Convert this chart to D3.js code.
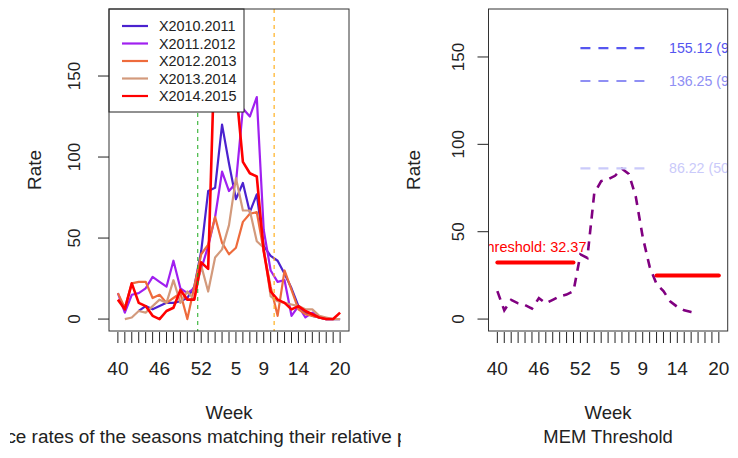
<!DOCTYPE html>
<html><head><meta charset="utf-8">
<script src="https://cdn.jsdelivr.net/npm/d3@7"></script>
<style>
body{margin:0;background:#fff}
svg{display:block}
text{font-family:"Liberation Sans",Arial,sans-serif;fill:#222}
</style>
</head><body>
<svg id="c" width="738" height="458"></svg>
<script>
// ---------- data ----------
const weeks = [40,41,42,43,44,45,46,47,48,49,50,51,52,1,2,3,4,5,6,7,8,9,10,11,12,13,14,15,16,17,18,19,20];
const xLabelsShown = ["40","46","52","5","9","14","20"];
const yTicks = [0,50,100,150];
const seriesNames = ["X2010.2011","X2011.2012","X2012.2013","X2013.2014","X2014.2015"];
const s2010 = [null,null,null,5,8,6,8,10,10,11,13,20,42,79,81,120,96,74,84,66,77,45,39,36,28,19,8,4,2,1,0,0,0];
const s2011 = [16,4,15,16,19,26,23,20,36,19,16,19,31,45,63,91,79,84,130,125,137,55,30,23,24,2,8,1,4,1,0,0,null];
const s2012 = [16,7,22,23,23,13,15,10,13,16,0,20,40,46,63,47,40,44,60,65,66,42,20,2,30,18,6,3,2,1,0,0,null];
const s2013 = [null,0,1,5,4,8,12,10,24,10,17,12,33,17,38,43,58,87,67,67,48,44,14,11,10,9,8,6,6,2,1,0,0];
const s2014 = [12,6,22,10,8,2,0,5,7,18,12,12,35,31,175,184,165,143,97,90,88,42,17,12,10,6,8,5,3,1,0,0,4];
const epidemicStartPos = 12.5, epidemicEndPos = 23.5;

const typicalCurve = [16,5,11,9,8,6,12,9,11,13,14,16,37,35,72,79,80,82,86,83,70,47,30,20,16,10,7,5,4,3];
const preThreshold = 32.37, postThreshold = 25;
const preRange = [1,12], postRange = [24,33], intensityRange = [13,23];
const intensityValues = [86.22, 136.25, 155.12];
const intensityLabels = ["86.22 (50%)","136.25 (90%)","155.12 (97.5%)"];
const thresholdLabel = "Threshold: 32.37";

// ---------- styles ----------
const seriesColors = ["#4B22CF","#A020F0","#EE6B3C","#D39A7C","#FF0000"];
const intensityColors = ["#CACAFA","#8F8FF4","#5555F0"];

const svg = d3.select("#c");
const allSeries = [s2010,s2011,s2012,s2013,s2014];
const n = weeks.length;
const idx = d3.range(1, n+1);
const pad = 0.04*(n-1);

function drawXAxis(g, x, bottom){
  idx.forEach((i,k)=>{
    g.append("line").attr("x1",x(i)).attr("x2",x(i)).attr("y1",bottom+1).attr("y2",bottom+12)
      .attr("stroke","#222").attr("stroke-width",1);
    const lab = String(weeks[k]);
    if (xLabelsShown.includes(lab)) {
      g.append("text").attr("x",x(i)).attr("y",375).attr("text-anchor","middle")
        .style("font-size","19px").text(lab);
    }
  });
}
function drawYAxis(g, y, left, labelX){
  yTicks.forEach(t=>{
    g.append("line").attr("x1",left-11).attr("x2",left).attr("y1",y(t)).attr("y2",y(t))
      .attr("stroke","#222");
    g.append("text").attr("transform",`translate(${labelX},${y(t)}) rotate(-90)`)
      .attr("text-anchor","middle").attr("dy","0.35em").style("font-size","17px").text(t);
  });
}
function rotLabel(g, txt, cx, cy){
  g.append("text").attr("transform",`translate(${cx},${cy}) rotate(-90)`)
    .attr("text-anchor","middle").attr("dy","0.35em").style("font-size","19px").text(txt);
}

// ---------- left panel ----------
(function(){
  const L=109,R=349,T=9,B=331;
  const x = d3.scaleLinear().domain([1-pad, n+pad]).range([L,R]);
  const yMax = d3.max(allSeries.flat());
  const y = d3.scaleLinear().domain([-0.04*yMax, 1.04*yMax]).range([B,T]);
  const g = svg.append("g");
  g.append("clipPath").attr("id","clipL").append("rect").attr("x",L).attr("y",T).attr("width",R-L).attr("height",B-T);
  const pg = g.append("g").attr("clip-path","url(#clipL)");
  const line = d3.line().defined(d=>d!=null).x((d,i)=>x(i+1)).y(d=>y(d));
  allSeries.forEach((s,k)=>{
    pg.append("path").attr("d",line(s)).attr("fill","none").attr("stroke",seriesColors[k])
      .attr("stroke-width",k===4?2.6:2.2).attr("stroke-linejoin","round");
  });
  pg.append("line").attr("x1",x(epidemicStartPos)).attr("x2",x(epidemicStartPos)).attr("y1",T).attr("y2",B)
    .attr("stroke","#1DAA1D").attr("stroke-width",1).attr("stroke-dasharray","4,4");
  pg.append("line").attr("x1",x(epidemicEndPos)).attr("x2",x(epidemicEndPos)).attr("y1",T).attr("y2",B)
    .attr("stroke","#FFB020").attr("stroke-width",1.2).attr("stroke-dasharray","4,4");
  // legend
  const lg = g.append("g");
  lg.append("rect").attr("x",L).attr("y",T).attr("width",135).attr("height",103)
    .attr("fill","#fff").attr("stroke","#222");
  seriesNames.forEach((nm,k)=>{
    const ly = 26 + k*17.5;
    lg.append("line").attr("x1",122).attr("x2",148).attr("y1",ly).attr("y2",ly)
      .attr("stroke",seriesColors[k]).attr("stroke-width",2.2);
    lg.append("text").attr("x",159).attr("y",ly).attr("dy","0.35em").style("font-size","14.4px").text(nm);
  });
  g.append("rect").attr("x",L).attr("y",T).attr("width",R-L).attr("height",B-T)
    .attr("fill","none").attr("stroke","#333");
  drawXAxis(g,x,B);
  drawYAxis(g,y,L,74);
  rotLabel(g,"Rate",34,(T+B)/2);
  g.append("text").attr("x",(L+R)/2).attr("y",419).attr("text-anchor","middle").style("font-size","18.5px").text("Week");
  g.append("clipPath").attr("id","clipSub").append("rect").attr("x",10).attr("y",0).attr("width",391).attr("height",458);
  g.append("text").attr("clip-path","url(#clipSub)").attr("x",(L+R)/2-4).attr("y",443).attr("text-anchor","middle")
    .style("font-size","18.9px")
    .text("Weekly incidence rates of the seasons matching their relative position in the model");
})();

// ---------- right panel ----------
(function(){
  const L=488.5,R=727.7,T=9,B=331;
  const x = d3.scaleLinear().domain([1-pad, n+pad]).range([L,R]);
  const top = 1.1*d3.max(intensityValues);
  const y = d3.scaleLinear().domain([-0.04*top, 1.04*top]).range([B,T]);
  const g = svg.append("g");
  g.append("clipPath").attr("id","clipR").append("rect").attr("x",L).attr("y",T).attr("width",R-L).attr("height",B-T);
  const pg = g.append("g").attr("clip-path","url(#clipR)");
  const line = d3.line().x((d,i)=>x(i+1)).y(d=>y(d));
  pg.append("path").attr("d",line(typicalCurve)).attr("fill","none").attr("stroke","#800080")
    .attr("stroke-width",2.6).attr("stroke-dasharray","9,7");
  pg.append("line").attr("x1",x(preRange[0])).attr("x2",x(preRange[1])).attr("y1",y(preThreshold)).attr("y2",y(preThreshold))
    .attr("stroke","#FF0000").attr("stroke-width",4).attr("stroke-linecap","round");
  pg.append("line").attr("x1",x(postRange[0])).attr("x2",x(postRange[1])).attr("y1",y(postThreshold)).attr("y2",y(postThreshold))
    .attr("stroke","#FF0000").attr("stroke-width",4).attr("stroke-linecap","round");
  pg.append("text").attr("x",x(preRange[1])+13).attr("y",y(preThreshold)-10.5)
    .attr("text-anchor","end").style("font-size","14.5px").style("fill","#FF0000").text(thresholdLabel);
  intensityValues.forEach((v,k)=>{
    pg.append("line").attr("x1",x(intensityRange[0])).attr("x2",x(intensityRange[1])).attr("y1",y(v)).attr("y2",y(v))
      .attr("stroke",intensityColors[k]).attr("stroke-width",2.2).attr("stroke-dasharray","10,8");
    pg.append("text").attr("x",x(25.8)).attr("y",y(v)).attr("dy","0.35em").style("font-size","14.2px")
      .style("fill",intensityColors[k]).text(intensityLabels[k]);
  });
  g.append("rect").attr("x",L).attr("y",T).attr("width",R-L).attr("height",B-T)
    .attr("fill","none").attr("stroke","#333");
  drawXAxis(g,x,B);
  drawYAxis(g,y,L,458);
  rotLabel(g,"Rate",413,(T+B)/2);
  g.append("text").attr("x",(L+R)/2).attr("y",419).attr("text-anchor","middle").style("font-size","18.5px").text("Week");
  g.append("text").attr("x",(L+R)/2).attr("y",443).attr("text-anchor","middle").style("font-size","18.4px").text("MEM Threshold");
})();
</script>
</body></html>
